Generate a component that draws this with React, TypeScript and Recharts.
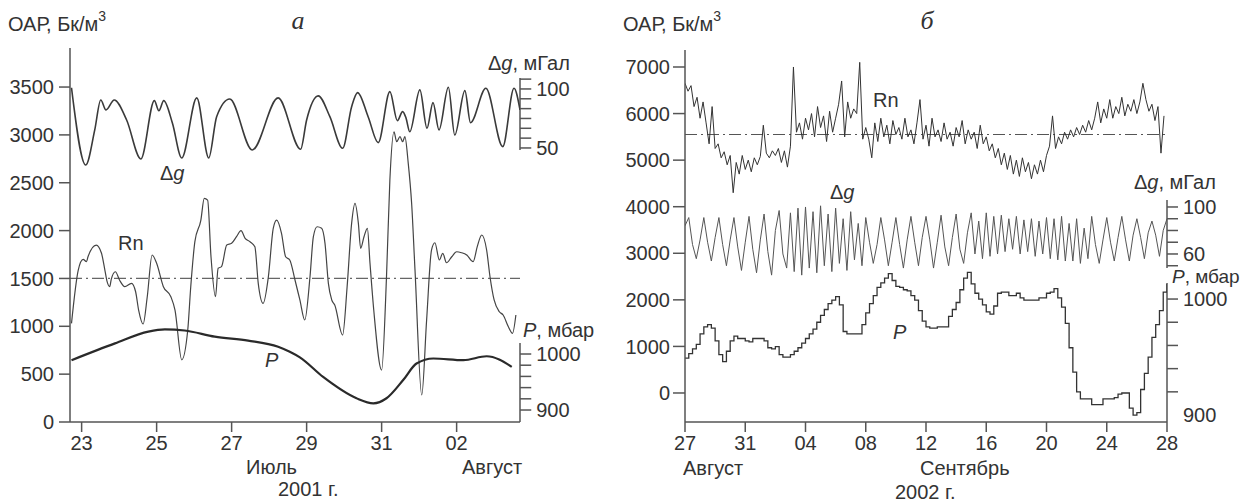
import { LineChart, Line, XAxis, YAxis, ReferenceLine } from "recharts";

const FONT = '"Liberation Sans", Arial, sans-serif';
const SERIF = '"Liberation Serif", "Times New Roman", serif';
const INK = "#333";
const AXIS = "#555";

// ---------- panel a: July/August 2001 (day number counted in July) ----------
const A_TICK_DAYS = [23, 25, 27, 29, 31, 33];
const A_TICK_LABELS = ["23", "25", "27", "29", "31", "02"];
const A_OAR_TICKS = [0, 500, 1000, 1500, 2000, 2500, 3000, 3500];
const A_DG_TICKS = [50, 58.33, 66.67, 75, 83.33, 91.67, 100, 108.33];
const A_DG_LABELED = [50, 100];
const A_P_TICKS = [900, 920, 940, 960, 980, 1000];
const A_P_LABELED = [900, 1000];
const A_RN_MEAN = 1500;

const DG_A_DAY = [
  22.73, 23.11, 23.35, 23.51, 23.65, 23.87, 24.2, 24.58, 24.94, 25.06, 25.19, 25.42, 25.67, 26.07, 26.39,
  26.6, 26.95, 27.55, 28.24, 28.84, 29.0, 29.31, 29.62, 29.96, 30.2, 30.36, 30.64, 30.91, 31.22, 31.42,
  31.56, 31.65, 31.75, 32.02, 32.21, 32.37, 32.53, 32.78, 32.95, 33.22, 33.37, 33.78, 34.23, 34.53, 34.69,
];
const DG_A_VAL = [
  101, 35.6, 65.3, 90.7, 82.2, 90.7, 73.7, 40.7, 90.1, 81.6, 90.1, 71.2, 41.5, 92.4, 41.5,
  76.5, 91.5, 48.3, 92.4, 48.9, 73.7, 94.1, 76.5, 49.7, 85, 96.9, 76.5, 54.5, 97.7, 73.1,
  80.8, 75.4, 63.8, 99.2, 66.7, 88.4, 65.3, 101.4, 61, 98.6, 71.4, 100.6, 51.1, 100.6, 82.2,
];

const RN_A_DAY = [
  22.73, 22.91, 23.04, 23.13, 23.17, 23.39, 23.53, 23.62, 23.68, 23.75,
  23.79, 23.9, 24.01, 24.15, 24.33, 24.44, 24.52, 24.64, 24.75, 24.88,
  25.0, 25.18, 25.38, 25.49, 25.67, 25.83, 25.91, 26.02, 26.18, 26.27,
  26.36, 26.45, 26.57, 26.64, 26.73, 26.87, 27.0, 27.13, 27.25, 27.36,
  27.49, 27.62, 27.71, 27.84, 27.98, 28.11, 28.2, 28.33, 28.44, 28.55,
  28.69, 28.82, 28.95, 29.09, 29.18, 29.28, 29.4, 29.49, 29.58, 29.67,
  29.75, 29.96, 30.08, 30.2, 30.29, 30.38, 30.44, 30.53, 30.62, 30.69,
  30.79, 31.0, 31.13, 31.22, 31.33, 31.4, 31.49, 31.56, 31.62, 31.71,
  31.8, 31.89, 32.07, 32.2, 32.33, 32.42, 32.54, 32.63, 32.73, 32.87,
  33.0, 33.13, 33.27, 33.44, 33.55, 33.67, 33.8, 33.89, 34.0, 34.14,
  34.24, 34.38, 34.49, 34.58,
];
const RN_A_VAL = [
  1031, 1588, 1700, 1675, 1727, 1849, 1763, 1588, 1466, 1414,
  1491, 1570, 1484, 1414, 1449, 1361, 1170, 1024, 1309, 1745,
  1658, 1414, 1309, 1170, 650, 961, 1414, 1884, 2110, 2337,
  2319, 1727, 1309, 1606, 1623, 1849, 1867, 1936, 1999, 1919,
  1884, 1832, 1449, 1240, 1518, 2024, 2110, 1972, 1727, 1693,
  1484, 1275, 1066, 1518, 1936, 2040, 2024, 1867, 1449, 1275,
  1222, 909, 1414, 2076, 2285, 2076, 1815, 1936, 2024, 1658,
  1170, 543, 1518, 2528, 3033, 2929, 2981, 2929, 2981, 2703,
  2285, 1588, 282, 1066, 1797, 1873, 1693, 1763, 1664, 1727,
  1779, 1769, 1745, 1675, 1832, 1954, 1797, 1518, 1275, 1152,
  1118, 996, 927, 1118,
];

const P_A_DAY = [22.73, 23.89, 24.78, 25.22, 25.75, 26.55, 27.44, 28.24, 28.55, 28.82, 29.44, 30.33, 30.78, 31.13, 31.58, 31.93, 32.38, 33.18, 33.8, 34.47];
const P_A_VAL = [989, 1019, 1040, 1044, 1042, 1031, 1024, 1013, 1004, 994, 959, 921, 912, 921, 954, 983, 992, 989, 996, 977];

// ---------- panel б: 27 Aug – 28 Sep 2002 (days since 27 Aug) ----------
const B_TICK_DAYS = [0, 4, 8, 12, 16, 20, 24, 28, 32];
const B_TICK_LABELS = ["27", "31", "04", "08", "12", "16", "20", "24", "28"];
const B_OAR_TICKS = [0, 1000, 2000, 3000, 4000, 5000, 6000, 7000];
const B_DG_TICKS = [50, 60, 70, 80, 90, 100];
const B_DG_LABELED = [60, 100];
const B_P_TICKS = [900, 920, 940, 960, 980, 1000];
const B_P_LABELED = [900, 1000];
const B_RN_MEAN = 5550;

const RN_B_STEP = 0.2;
const RN_B_VAL = [
  6650, 6480, 6600, 6150, 6350, 5900,
  6250, 5800, 5350, 6150, 5250,
  5350, 5050, 5180, 4900, 5100,
  4300, 4950, 4700, 5100, 4800,
  5000, 4750, 5050, 4900, 5080,
  5750, 5150, 5050, 5200, 5100,
  5250, 4950, 5200, 4850, 5300,
  7000, 5600, 5800, 5450, 5900,
  5650, 6000, 5500, 6150, 5700,
  5950, 5400, 6050, 5600, 5900,
  6200, 6700, 5500, 6250, 5900,
  6100, 6000, 7100, 5450, 5700,
  5450, 5050, 5800, 5400, 5900,
  5500, 5750, 5350, 5850, 5550,
  5700, 5450, 5900, 5500, 5650,
  5350, 5800, 6300, 5450, 5750,
  5300, 5900, 5500, 5650, 5400,
  5800, 5450, 5600, 5300, 5700,
  5500, 5850, 5350, 5650, 5450,
  5600, 5250, 5750, 5350, 5500,
  5200, 5350, 5050, 5250, 4900,
  5150, 4800, 5100, 4700, 5000,
  4650, 5050, 4750, 4950, 4600,
  4900, 4700, 5000, 4750, 5100,
  5300, 5950, 5250, 5500, 5350,
  5600, 5450, 5650, 5500, 5700,
  5550, 5750, 5600, 5850, 5650,
  5900, 6250, 5800, 6100, 5900,
  6300, 5900, 6150, 6000, 6350,
  5950, 6200, 6050, 6300, 6000,
  6250, 6650, 6300, 6050, 6200,
  5850, 6150, 5150, 5950,
];

const DG_B_STEP = 0.25;
const DG_B_VAL = [
  84, 91, 68, 56, 72, 91, 70, 54, 74, 91, 68, 50, 72, 91, 66, 46,
  70, 92, 64, 44, 72, 94, 62, 42, 80, 97, 60, 48,
  95, 45, 99, 42, 100, 48, 96, 44, 101, 50, 94, 45, 99, 52, 90, 46, 96, 55, 86, 50,
  91, 70, 52, 68, 91, 72, 50, 70, 91, 68, 48, 72, 92, 70, 50, 74,
  92, 72, 48, 70, 93, 66, 50, 74, 94, 64, 52, 78, 95, 60, 88, 56,
  95, 58, 92, 60, 93, 62, 90, 64, 92, 60, 89, 62, 90, 58, 88, 60,
  91, 56, 90, 55, 92, 54, 86, 54, 90, 52, 82, 56,
  92, 68, 52, 72, 91, 70, 54, 74, 92, 72, 54, 76, 90, 74, 56, 78, 88, 76, 58, 80,
  90,
];

const P_B_STEP = 0.25;
const P_B_VAL = [
  949, 953, 957, 961, 970, 976, 978, 975, 964, 952, 946, 955, 964, 968, 966, 966,
  964, 963, 966, 966, 966, 964, 958, 957, 959, 952, 950, 950, 952, 955, 958, 962,
  966, 970, 974, 980, 986, 991, 996, 999, 1002, 995, 972, 970, 970, 970, 970, 978,
  988, 996, 1003, 1010, 1014, 1018, 1022, 1016, 1011, 1010, 1008, 1007, 1003, 999, 990, 981,
  976, 975, 975, 976, 976, 976, 985, 991, 997, 1008, 1018, 1023, 1013, 1005, 1000, 995,
  989, 987, 994, 1005, 1006, 1006, 1003, 1003, 1005, 1001, 999, 999, 999, 999, 1001, 1001,
  1005, 1006, 1009, 1001, 993, 979, 958, 937, 920, 914, 914, 914, 909, 909, 909, 914,
  914, 914, 915, 918, 919, 919, 906, 900, 902, 922, 936, 950, 967, 978, 990, 1006,
  1013,
];

const rows = (days: number[], vals: number[]) => days.map((day, i) => ({ day, v: vals[i] }));
const gridRows = (step: number, vals: number[]) => vals.map((v, i) => ({ day: i * step, v }));

const tickStyle = { fill: INK, fontSize: 20, fontFamily: FONT };

// short outward ticks of the small right-hand scales (Δg and P), drawn on their own hidden axes
function sideScale(axisId: string, x: number, len: number, ticks: number[], labeled: number[], lo: number, hi: number) {
  const out = [
    <ReferenceLine
      key={`${axisId}-axis`}
      yAxisId={axisId}
      segment={[{ x, y: lo }, { x, y: hi }]}
      stroke={AXIS}
      strokeWidth={1.5}
      ifOverflow="visible"
    />,
  ];
  ticks.forEach((t) => {
    out.push(
      <ReferenceLine
        key={`${axisId}-${t}`}
        yAxisId={axisId}
        segment={[{ x, y: t }, { x: x + len, y: t }]}
        stroke={AXIS}
        strokeWidth={1.5}
        ifOverflow="visible"
        label={
          labeled.includes(t)
            ? { value: String(t), position: "right", offset: 5, fill: INK, fontSize: 20, fontFamily: FONT }
            : undefined
        }
      />
    );
  });
  return out;
}

function PanelA() {
  const A_MIN = 22.69;
  const A_MAX = 34.69;
  return (
    <LineChart width={630} height={503} margin={{ top: 48, right: 110, bottom: 0, left: 0 }}>
      <XAxis
        type="number"
        dataKey="day"
        domain={[A_MIN, A_MAX]}
        allowDataOverflow
        ticks={A_TICK_DAYS}
        tickFormatter={(d: number) => A_TICK_LABELS[A_TICK_DAYS.indexOf(d)] ?? ""}
        height={81}
        tickSize={10}
        tickMargin={4}
        stroke={AXIS}
        strokeWidth={1.5}
        tick={tickStyle}
      />
      <YAxis
        yAxisId="oar"
        domain={[0, 3908]}
        allowDataOverflow
        ticks={A_OAR_TICKS}
        width={70}
        tickSize={11}
        tickMargin={5}
        stroke={AXIS}
        strokeWidth={1.5}
        tick={tickStyle}
      />
      <YAxis yAxisId="dg" orientation="right" hide domain={[-182.2, 134.7]} allowDataOverflow />
      <YAxis yAxisId="p" orientation="right" hide domain={[878.6, 1546.4]} allowDataOverflow />
      <ReferenceLine yAxisId="oar" y={A_RN_MEAN} stroke="#666" strokeWidth={1.2} strokeDasharray="12 4 2 4" />
      {sideScale("dg", A_MAX, 0.3, A_DG_TICKS, A_DG_LABELED, 48.3, 109.3)}
      {sideScale("p", A_MAX, 0.3, A_P_TICKS, A_P_LABELED, 878.6, 1019.6)}
      <Line yAxisId="dg" data={rows(DG_A_DAY, DG_A_VAL)} dataKey="v" type="monotone" stroke="#3a3a3a" strokeWidth={1.6} dot={false} isAnimationActive={false} />
      <Line yAxisId="oar" data={rows(RN_A_DAY, RN_A_VAL)} dataKey="v" type="monotone" stroke="#444" strokeWidth={1.2} dot={false} isAnimationActive={false} />
      <Line yAxisId="p" data={rows(P_A_DAY, P_A_VAL)} dataKey="v" type="monotone" stroke="#2a2a2a" strokeWidth={2.2} dot={false} isAnimationActive={false} />
    </LineChart>
  );
}

function PanelB() {
  const B_MAX = 32;
  return (
    <LineChart width={644} height={503} margin={{ top: 50, right: 92, bottom: 0, left: 0 }}>
      <XAxis
        type="number"
        dataKey="day"
        domain={[0, B_MAX]}
        allowDataOverflow
        ticks={B_TICK_DAYS}
        tickFormatter={(d: number) => B_TICK_LABELS[B_TICK_DAYS.indexOf(d)] ?? ""}
        height={81}
        tickSize={10}
        tickMargin={4}
        stroke={AXIS}
        strokeWidth={1.5}
        tick={tickStyle}
      />
      <YAxis
        yAxisId="oar"
        domain={[-623, 7365]}
        allowDataOverflow
        ticks={B_OAR_TICKS}
        width={70}
        tickSize={12}
        tickMargin={3}
        stroke={AXIS}
        strokeWidth={1.5}
        tick={tickStyle}
      />
      <YAxis yAxisId="dg" orientation="right" hide domain={[-83, 233.6]} allowDataOverflow />
      <YAxis yAxisId="p" orientation="right" hide domain={[894, 1214.7]} allowDataOverflow />
      <ReferenceLine yAxisId="oar" y={B_RN_MEAN} stroke="#555" strokeWidth={1.2} strokeDasharray="12 4 2 4" />
      {sideScale("dg", B_MAX, 0.73, B_DG_TICKS, B_DG_LABELED, 48, 106)}
      {sideScale("p", B_MAX, 0.73, B_P_TICKS.filter((t) => t > 900), B_P_LABELED, 894, 1013.8)}
      <ReferenceLine
        yAxisId="p"
        y={900}
        stroke="none"
        ifOverflow="visible"
        label={{ value: "900", position: "right", offset: 16, fill: INK, fontSize: 20, fontFamily: FONT }}
      />
      <Line yAxisId="dg" data={gridRows(DG_B_STEP, DG_B_VAL)} dataKey="v" type="linear" stroke="#555" strokeWidth={1} dot={false} isAnimationActive={false} />
      <Line yAxisId="oar" data={gridRows(RN_B_STEP, RN_B_VAL)} dataKey="v" type="linear" stroke="#333" strokeWidth={1} dot={false} isAnimationActive={false} />
      <Line yAxisId="p" data={gridRows(P_B_STEP, P_B_VAL)} dataKey="v" type="stepAfter" stroke="#333" strokeWidth={1.3} dot={false} isAnimationActive={false} />
    </LineChart>
  );
}

function Label({ x, y, children, italic, size = 20, anchor = "start", family = FONT }: any) {
  return (
    <text
      x={x}
      y={y}
      fill={INK}
      fontSize={size}
      fontFamily={family}
      fontStyle={italic ? "italic" : "normal"}
      textAnchor={anchor}
      dominantBaseline="central"
    >
      {children}
    </text>
  );
}

const Dg = () => (
  <>
    Δ<tspan fontStyle="italic">g</tspan>
  </>
);

const Oar = () => (
  <>
    ОАР, Бк/м
    <tspan fontSize={14} dy={-8}>3</tspan>
  </>
);

export default function App() {
  return (
    <div style={{ position: "absolute", left: 0, top: 0, width: 1259, height: 503, background: "#fff" }}>
      <div style={{ position: "absolute", left: 0, top: 0 }}>
        <PanelA />
      </div>
      <div style={{ position: "absolute", left: 615, top: 0 }}>
        <PanelB />
      </div>
      <svg width={1259} height={503} style={{ position: "absolute", left: 0, top: 0, pointerEvents: "none" }}>
        {/* panel a */}
        <Label x={8} y={24}><Oar /></Label>
        <Label x={298} y={20} italic size={26} anchor="middle" family={SERIF}>а</Label>
        <Label x={488} y={63}><Dg />, мГал</Label>
        <Label x={160} y={173}><Dg /></Label>
        <Label x={118} y={243}>Rn</Label>
        <Label x={265} y={360} italic>P</Label>
        <Label x={523} y={330}><tspan fontStyle="italic">P</tspan>, мбар</Label>
        <Label x={246} y={467}>Июль</Label>
        <Label x={462} y={467}>Август</Label>
        <Label x={278} y={489}>2001 г.</Label>
        {/* panel б */}
        <Label x={623} y={24}><Oar /></Label>
        <Label x={927} y={20} italic size={26} anchor="middle" family={SERIF}>б</Label>
        <Label x={873} y={100}>Rn</Label>
        <Label x={830} y={192}><Dg /></Label>
        <Label x={1134} y={182}><Dg />, мГал</Label>
        <Label x={1172} y={276} size={19}><tspan fontStyle="italic">P</tspan>, мбар</Label>
        <Label x={893} y={332} italic>P</Label>
        <Label x={683} y={468}>Август</Label>
        <Label x={920} y={468}>Сентябрь</Label>
        <Label x={895} y={492}>2002 г.</Label>
      </svg>
    </div>
  );
}
